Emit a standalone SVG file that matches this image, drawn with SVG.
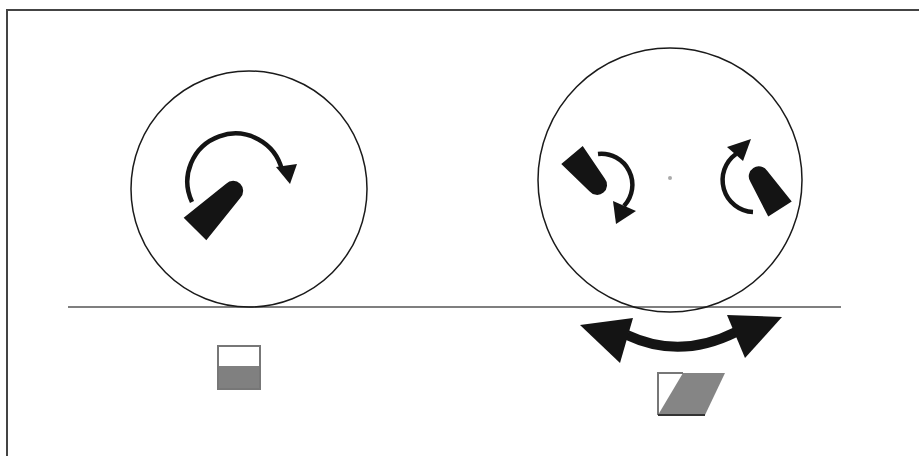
<svg xmlns="http://www.w3.org/2000/svg" width="919" height="456" viewBox="0 0 919 456">
<style>
.wheel{fill:none;stroke:#1a1a1a;stroke-width:1.5}
.nozzle{fill:#141414}
.arc{fill:none;stroke:#141414;stroke-width:4.5}
.head{fill:#141414}
.frame{stroke:#444;stroke-width:2;fill:none}
.ground{stroke:#555;stroke-width:1.5}
</style>
<defs>
<path id="noz" d="M-16,0 L-10,-54 A10,10 0 0 1 10,-54 L16,0 Z"/>
<path id="noz2" d="M-14,0 L-10,-39 A10,10 0 0 1 10,-39 L14,0 Z"/>
</defs>
<rect width="919" height="456" fill="#fff"/>
<path class="frame" d="M7,456 V10 H919"/>
<line class="ground" x1="68" y1="307" x2="841" y2="307"/>
<g id="left-wheel">
<circle class="wheel" cx="249" cy="189" r="118"/>
<use href="#noz" class="nozzle" transform="translate(195,229) rotate(45)"/>
<path class="arc" d="M192,202 A48,48 0 1 1 282,170"/>
<path class="head" d="M276,167 L297,164 L290,184 Z"/>
</g>
<g id="right-wheel">
<circle class="wheel" cx="670" cy="180" r="132"/>
<circle cx="670" cy="178" r="2" fill="#aaa"/>
<use href="#noz2" class="nozzle" transform="translate(572,155) rotate(140)"/>
<path class="arc" d="M598,154 A31,31 0 0 1 624,206"/>
<path class="head" d="M613,201 L636,211 L616,224 Z"/>
<use href="#noz2" class="nozzle" transform="translate(780,209) rotate(-33)"/>
<path class="arc" d="M753,212 A32,32 0 0 1 736,154"/>
<path class="head" d="M727,147 L751,139 L743,161 Z"/>
</g>
<g id="connectors">
<path d="M627,335 Q680,360 736,332" fill="none" stroke="#141414" stroke-width="10"/>
<path class="head" d="M580,325 L633,318 L620,363 Z"/>
<path class="head" d="M782,317 L727,315 L745,358 Z"/>
</g>
<g id="square">
<rect x="218" y="346" width="42" height="20" fill="#fff"/>
<rect x="218" y="366" width="42" height="23" fill="#808080"/>
<rect x="218" y="346" width="42" height="43" fill="none" stroke="#777" stroke-width="2"/>
</g>
<g id="parallelogram">
<path d="M683,373 L725,373 L705,415 L658,415 Z" fill="#858585"/>
<path d="M658,415 L658,373 L683,373" fill="none" stroke="#777" stroke-width="2"/>
<line x1="658" y1="415" x2="705" y2="415" stroke="#333" stroke-width="2"/>
</g>
</svg>
